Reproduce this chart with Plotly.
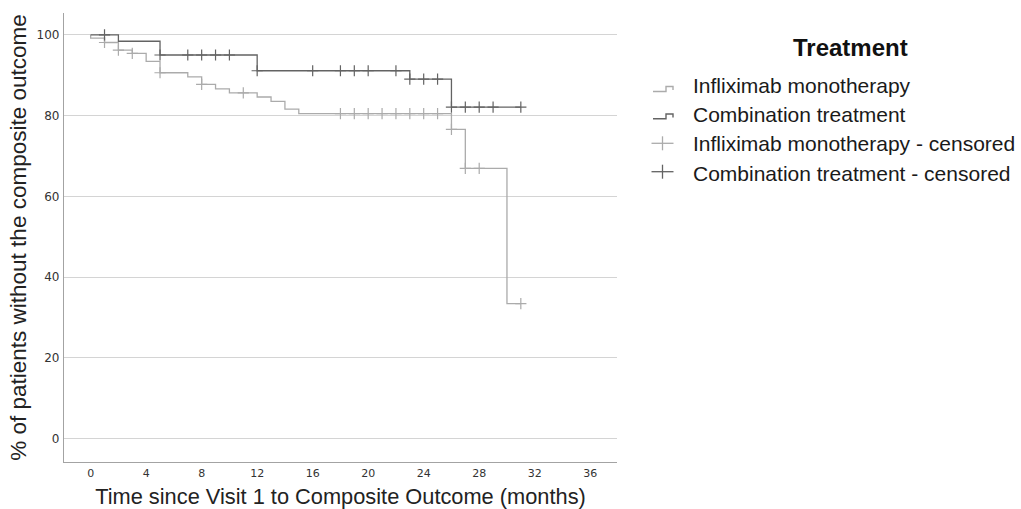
import plotly.graph_objects as go

# ---------------- data ----------------
mono_times = [0, 0, 1, 2, 3, 4, 5, 7, 8, 9, 10, 12, 13, 14, 15, 26, 27, 30, 31]
mono_surv = [100, 99.2, 98.1, 96.2, 95.4, 93.4, 90.6, 89.6, 87.7, 86.6, 85.6, 84.6, 83.5, 81.6, 80.5, 76.6, 66.9, 33.4, 33.4]
mono_censored = [1, 2, 3, 5, 8, 11, 18, 19, 20, 21, 22, 23, 24, 25, 26, 27, 28, 31]

combo_times = [0, 2, 5, 12, 23, 26, 31]
combo_surv = [100, 98.4, 95.0, 91.1, 89.0, 82.1, 82.1]
combo_censored = [1, 5, 7, 8, 9, 10, 12, 16, 18, 19, 20, 22, 23, 24, 25, 26, 27, 28, 29, 31]

x_ticks = [0, 4, 8, 12, 16, 20, 24, 28, 32, 36]
y_ticks = [0, 20, 40, 60, 80, 100]

legend_labels = ["Infliximab monotherapy", "Combination treatment",
                 "Infliximab monotherapy - censored", "Combination treatment - censored"]
legend_title = "Treatment"
x_title = "Time since Visit 1 to Composite Outcome (months)"
y_title = "% of patients without the composite outcome"

LIGHT = "#ababab"
DARK = "#636363"


def step_value(times, surv, t):
    """KM survival value at time t (right-continuous step)."""
    v = surv[0]
    for ti, si in zip(times, surv):
        if ti <= t:
            v = si
    return v


fig = go.Figure()

fig.add_trace(go.Scatter(x=mono_times, y=mono_surv, mode="lines",
                         line=dict(color=LIGHT, width=1.3, shape="hv"),
                         name=legend_labels[0], showlegend=False))
fig.add_trace(go.Scatter(x=combo_times, y=combo_surv, mode="lines",
                         line=dict(color=DARK, width=1.3, shape="hv"),
                         name=legend_labels[1], showlegend=False))
fig.add_trace(go.Scatter(x=mono_censored,
                         y=[step_value(mono_times, mono_surv, t) for t in mono_censored],
                         mode="markers",
                         marker=dict(symbol="cross-thin", size=8, line=dict(color=LIGHT, width=1.2)),
                         name=legend_labels[2], showlegend=False))
fig.add_trace(go.Scatter(x=combo_censored,
                         y=[step_value(combo_times, combo_surv, t) for t in combo_censored],
                         mode="markers",
                         marker=dict(symbol="cross-thin", size=8, line=dict(color=DARK, width=1.2)),
                         name=legend_labels[3], showlegend=False))

# ---------------- layout ----------------
W, H = 1021, 509
L, R, T, B = 64, 404, 13, 47
PW, PH = W - L - R, H - T - B


def px(xp):
    return (xp - L) / PW


def py(yp):
    return (H - B - yp) / PH


def path(points):
    return "M " + " L ".join(f"{px(a):.5f},{py(b):.5f}" for a, b in points)


shapes = []
# step icons
for (low, high, end), col in [((91.5, 86.5, 90), LIGHT), ((118.8, 114, 117.5), DARK)]:
    shapes.append(dict(type="path", xref="paper", yref="paper",
                       path=path([(653, low), (666, low), (666, high), (673, high), (673, end)]),
                       line=dict(color=col, width=1.4)))
# cross icons
for yc, col in [(143.3, LIGHT), (171.7, DARK)]:
    shapes.append(dict(type="line", xref="paper", yref="paper",
                       x0=px(651.5), x1=px(673.5), y0=py(yc), y1=py(yc),
                       line=dict(color=col, width=1.3)))
    shapes.append(dict(type="line", xref="paper", yref="paper",
                       x0=px(662.5), x1=px(662.5), y0=py(yc - 7), y1=py(yc + 7),
                       line=dict(color=col, width=1.3)))

annotations = [dict(text=f"<b>{legend_title}</b>", xref="paper", yref="paper",
                    x=px(850.5), y=py(47.5), xanchor="center", yanchor="middle",
                    showarrow=False, font=dict(family="Liberation Sans, Arial", size=24, color="#111"))]
for lab, yc in zip(legend_labels, [86.3, 114.8, 144.3, 173.7]):
    annotations.append(dict(text=lab, xref="paper", yref="paper",
                            x=px(691), y=py(yc - 0.5), xanchor="left", yanchor="middle",
                            showarrow=False,
                            font=dict(family="Liberation Sans, Arial", size=21, color="#1a1a1a")))

fig.update_layout(
    width=W, height=H,
    margin=dict(l=L, r=R, t=T, b=B, pad=0),
    paper_bgcolor="white", plot_bgcolor="white",
    showlegend=False,
    shapes=shapes,
    annotations=annotations,
    xaxis=dict(range=[-1.92, 37.93], tickvals=x_ticks, ticktext=[str(v) for v in x_ticks],
               showgrid=False, zeroline=False, showline=True, linecolor="#a3a3a3", linewidth=1.2,
               ticks="outside", ticklen=1, tickcolor="rgba(0,0,0,0)",
               tickfont=dict(family="DejaVu Sans", size=11, color="#333"),
               title=dict(text=x_title, standoff=16,
                          font=dict(family="Liberation Sans, Arial", size=21.8, color="#222")),
               automargin=False),
    yaxis=dict(range=[-5.8, 105.4], tickvals=y_ticks, ticktext=[str(v) for v in y_ticks],
               showgrid=True, gridcolor="#d4d4d4", gridwidth=1.3,
               zeroline=False, showline=True, linecolor="#a3a3a3", linewidth=1.2,
               ticks="outside", ticklen=1, tickcolor="rgba(0,0,0,0)",
               tickfont=dict(family="DejaVu Sans", size=12, color="#333"),
               title=dict(text=y_title, standoff=3,
                          font=dict(family="Liberation Sans, Arial", size=22.5, color="#222")),
               automargin=False),
)

fig.write_html("out.html")
